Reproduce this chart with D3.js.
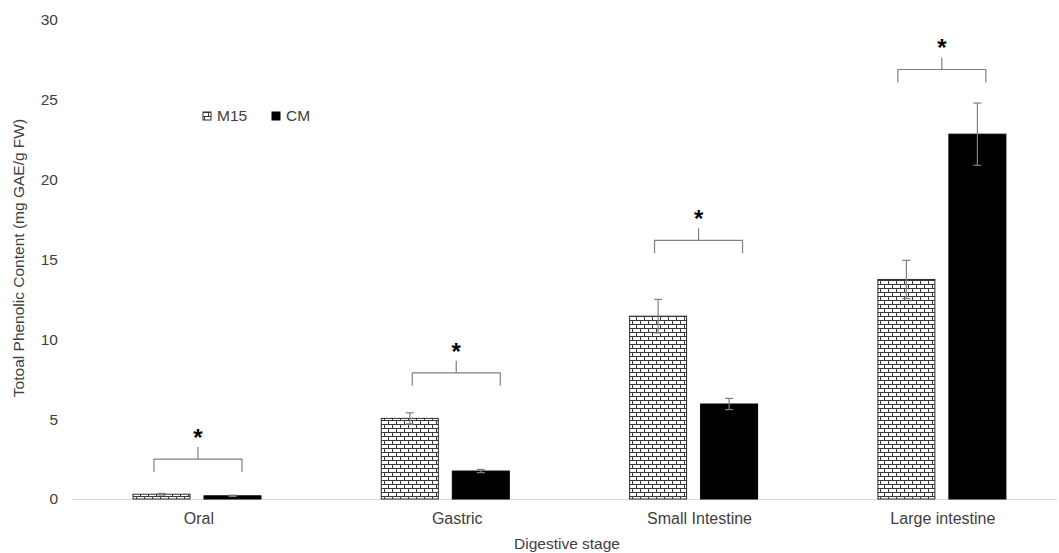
<!DOCTYPE html>
<html><head><meta charset="utf-8">
<script src="https://cdn.jsdelivr.net/npm/d3@7"></script>
<style>body{margin:0;background:#fff}svg{display:block;font-family:"Liberation Sans",Arial,sans-serif}</style>
</head><body>
<svg id="c" width="1059" height="553"></svg>
<script>
const categories = ["Oral","Gastric","Small Intestine","Large intestine"];
const seriesNames = ["M15","CM"];
const m15Values = [0.3, 5.05, 11.45, 13.75];
const m15Errors = [0.05, 0.35, 1.05, 1.2];
const cmValues = [0.2, 1.75, 5.95, 22.85];
const cmErrors = [0.04, 0.1, 0.35, 1.95];
const bracketLevels = [2.5, 7.9, 16.2, 26.9];
const yTicks = [0,5,10,15,20,25,30];

(function(){
const svg = d3.select("#c");
const mLeft = 72.8, mRight = 1066, mTop = 20, mBottom = 499;
const labelNudge = [2, 12, 6, 1];
const x = d3.scaleBand().domain(categories).range([mLeft,mRight]);
const xs = d3.scaleBand().domain(seriesNames).range([60.2, 188.2]).paddingInner(0.197);
const y = d3.scaleLinear().domain([0,30]).range([mBottom, mTop]);

const defs = svg.append("defs");
const pat = defs.append("pattern").attr("id","brick").attr("patternUnits","userSpaceOnUse")
  .attr("width",8).attr("height",8);
pat.append("rect").attr("width",8).attr("height",8).attr("fill","#fff");
pat.append("path").attr("d","M0,0.5H8M0,4.5H8M0.5,0V4.5M4.5,4.5V8").attr("stroke","#3a3a3a").attr("stroke-width",1).attr("fill","none");

svg.append("g").selectAll("text").data(yTicks).join("text")
  .attr("x",58).attr("y",d=>y(d)).attr("dy","0.35em").attr("text-anchor","end")
  .attr("font-size",15.5).attr("fill","#404040").text(d=>d);

svg.append("line").attr("x1",72).attr("x2",1057).attr("y1",mBottom+0.5).attr("y2",mBottom+0.5)
  .attr("stroke","#d9d9d9").attr("stroke-width",1);

const data = [];
categories.forEach((c,i)=>{
  data.push({c, s:"M15", v:m15Values[i], e:m15Errors[i]});
  data.push({c, s:"CM", v:cmValues[i], e:cmErrors[i]});
});

svg.append("g").selectAll("rect").data(data).join("rect")
  .attr("x",d=>x(d.c)+xs(d.s)).attr("width",xs.bandwidth())
  .attr("y",d=>y(d.v)).attr("height",d=>y(0)-y(d.v))
  .attr("fill",d=>d.s==="M15"?"url(#brick)":"#000")
  .attr("stroke",d=>d.s==="M15"?"#2a2a2a":"#000").attr("stroke-width",1);

const eg = svg.append("g").attr("stroke","#7f7f7f").attr("stroke-width",1.2);
data.forEach(d=>{
  const cx = x(d.c)+xs(d.s)+xs.bandwidth()/2;
  eg.append("line").attr("x1",cx).attr("x2",cx).attr("y1",y(d.v-d.e)).attr("y2",y(d.v+d.e));
  eg.append("line").attr("x1",cx-4).attr("x2",cx+4).attr("y1",y(d.v-d.e)).attr("y2",y(d.v-d.e));
  eg.append("line").attr("x1",cx-4).attr("x2",cx+4).attr("y1",y(d.v+d.e)).attr("y2",y(d.v+d.e));
});

const bg = svg.append("g");
categories.forEach((c,i)=>{
  const cx = x(c)+x.bandwidth()/2 + labelNudge[i] - 1;
  const by = y(bracketLevels[i]);
  bg.append("path").attr("d",`M${cx-44},${by+13}V${by}H${cx+44}V${by+13}M${cx},${by}V${by-12}`)
    .attr("fill","none").attr("stroke","#808080").attr("stroke-width",1.2);
  bg.append("text").attr("x",cx).attr("y",by).attr("dy",-13).attr("text-anchor","middle")
    .attr("font-size",24).attr("font-weight","bold").attr("fill","#000").text("*");
});

svg.append("g").selectAll("text").data(categories).join("text")
  .attr("x",(d,i)=>x(d)+x.bandwidth()/2+labelNudge[i]).attr("y",524).attr("text-anchor","middle")
  .attr("font-size",16).attr("fill","#404040").text(d=>d);

svg.append("text").attr("x",567).attr("y",549).attr("text-anchor","middle")
  .attr("font-size",15.5).attr("fill","#404040").text("Digestive stage");
svg.append("text").attr("transform","translate(24,258) rotate(-90)").attr("text-anchor","middle")
  .attr("font-size",15.5).attr("fill","#404040").text("Totoal Phenolic Content (mg GAE/g FW)");

const lg = svg.append("g");
const legItems = [{n:"M15", x:203},{n:"CM", x:272}];
legItems.forEach(l=>{
  lg.append("rect").attr("x",l.x).attr("y",112).attr("width",8).attr("height",8)
    .attr("fill",l.n==="M15"?"url(#brick)":"#000").attr("stroke",l.n==="M15"?"#333":"#000");
  lg.append("text").attr("x",l.x+14).attr("y",116).attr("dy","0.35em").attr("font-size",15.5)
    .attr("fill","#404040").text(l.n);
});
})();
</script>
</body></html>
